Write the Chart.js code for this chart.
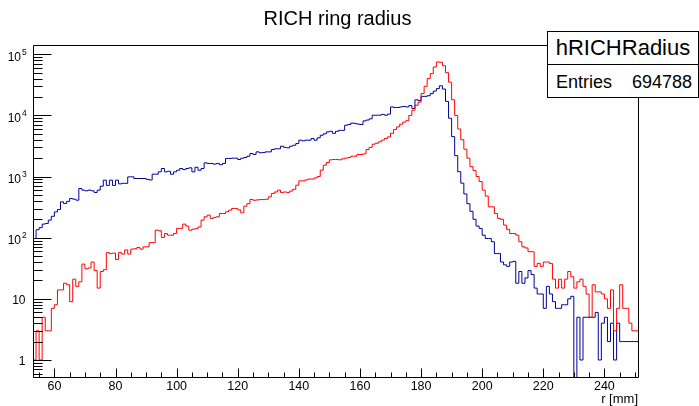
<!DOCTYPE html>
<html>
<head>
<meta charset="utf-8">
<script src="https://cdn.jsdelivr.net/npm/chart.js@4.4.1/dist/chart.umd.min.js"></script>
<style>
  body { margin: 0; background: #fff; }
  #wrap { position: relative; width: 699px; height: 406px; font-family: "Liberation Sans", Arial, sans-serif; color: #000; }
  canvas { position: absolute; left: 0; top: 0; }
  .txt { position: absolute; white-space: nowrap; }
  #title { left: 0; width: 675px; top: 8px; text-align: center; font-size: 20px; line-height: 20px; }
  #stats { position: absolute; left: 547px; top: 31px; width: 152px; height: 67px; box-sizing: border-box; border: 1px solid #000; background: #fff; }
  #statsHead { position: absolute; left: 0; top: 0; width: 150px; height: 32px; border-bottom: 1px solid #000; }
  #statsName { left: 0; width: 150px; top: 5px; text-align: center; font-size: 22px; line-height: 22px; }
  #statsLbl { left: 8px; top: 41px; font-size: 18px; line-height: 18px; }
  #statsVal { right: 6px; top: 41px; font-size: 18px; line-height: 18px; }
</style>
</head>
<body>
<div id="wrap">
  <canvas id="hist" width="699" height="406"></canvas>
  <div id="title" class="txt">RICH ring radius</div>
  <div id="stats">
    <div id="statsHead"><div id="statsName" class="txt">hRICHRadius</div></div>
    <div id="statsLbl" class="txt">Entries</div>
    <div id="statsVal" class="txt">694788</div>
  </div>
</div>
<script>
// ---------- binning (1 mm bins) ----------
const rMin = 53;
const rMax = 251;
const binWidth = 1;

// ---------- counts per bin, r = 53 ... 250 ----------
const countsBlue = [
  68, 97, 135, 146, 167, 171, 194, 224, 264, 289,
  386, 363, 393, 438, 427, 411, 638, 600, 585, 600,
  585, 548, 600, 696, 873, 717, 873, 717, 873, 760,
  775, 775, 990, 990, 930, 930, 930, 930, 900, 880,
  1094, 1094, 1195, 1355, 1195, 1220, 1094, 1195, 1270, 1355,
  1300, 1355, 1390, 1195, 1420, 1270, 1355, 1676, 1640, 1640,
  1600, 1640, 1560, 1640, 1973, 1973, 2000, 2000, 1900, 2000,
  2050, 2154, 2383, 2300, 2535, 2450, 2480, 2535, 2535, 2770,
  2850, 2850, 3140, 3000, 2950, 3140, 3250, 3470, 3935, 3850,
  3935, 3935, 4190, 3935, 4300, 4745, 5000, 5380, 5500, 5100,
  5500, 5700, 5700, 6920, 7100, 7500, 7400, 7200, 7100, 8140,
  8400, 8800, 10080, 10080, 10080, 10400, 10080, 10500, 13770, 13500,
  13500, 13770, 14000, 13770, 14500, 13000, 18000, 17500, 20500, 20500,
  21000, 22770, 25000, 27500, 30500, 27000, 17000, 9000, 4500, 2200,
  1200, 780, 520, 360, 270, 200, 155, 142, 110, 97,
  97, 86, 55, 55, 40, 36, 34, 40, 41, 18,
  28, 18, 22, 29, 25, 15, 12, 12, 7, 16,
  12, 9, 7, 7, 8, 8, 10, 11, 0, 5,
  1, 5, 5, 5, 5, 6, 1, 4, 5, 2,
  4, 1, 4, 2, 2, 2, 2, 2
];

const countsRed = [
  1, 1, 3, 1, 5, 3, 3, 7, 8, 14,
  14, 18, 17, 9, 21, 16, 19, 37, 31, 32,
  40, 29, 15, 28, 30, 57, 55, 56, 44, 57,
  54, 63, 54, 65, 66, 69, 65, 71, 71, 83,
  83, 133, 130, 101, 117, 110, 110, 117, 142, 142,
  167, 155, 133, 138, 140, 150, 194, 220, 234, 207,
  215, 220, 249, 249, 265, 282, 301, 301, 285, 255,
  328, 360, 422, 410, 415, 420, 420, 425, 466, 529,
  560, 600, 550, 560, 550, 580, 620, 723, 851, 851,
  880, 910, 910, 950, 1000, 1273, 1536, 1700, 1880, 1900,
  1900, 1880, 1950, 2000, 2050, 2154, 2154, 2300, 2300, 2350,
  2770, 3000, 3383, 3500, 3700, 3950, 4200, 4455, 5100, 5900,
  6500, 7180, 7800, 8200, 10000, 12160, 14680, 16500, 22770, 30000,
  40000, 48300, 62000, 74900, 74000, 65000, 50000, 35000, 18000, 10000,
  6000, 4000, 2800, 2000, 1450, 1250, 1000, 830, 600, 480,
  320, 320, 249, 207, 200, 161, 137, 117, 117, 110,
  86, 71, 68, 59, 59, 34, 38, 34, 40, 40,
  38, 21, 15, 21, 15, 21, 28, 23, 15, 19,
  21, 16, 12, 5, 17, 13, 13, 12, 10, 7,
  14, 3, 7, 17, 7, 7, 4, 3
];

// ---------- axes ----------
const xTickValues = [60, 80, 100, 120, 140, 160, 180, 200, 220, 240];
const yTickValues = [1, 10, 100, 1000, 10000, 100000];
const yTickLabels = [["1", ""], ["10", ""], ["10", "2"], ["10", "3"], ["10", "4"], ["10", "5"]];
const yMin = 0.5076;
const yMax = 1.419e5;

const FONT = '"Liberation Sans", Arial, sans-serif';

// ---------- histogram outline ----------
function histPoints(counts) {
  const pts = counts.map((c, i) => ({ x: rMin + i * binWidth, y: Math.max(c, yMin) }));
  pts.push({ x: rMin + counts.length * binWidth, y: Math.max(counts[counts.length - 1], yMin) });
  return pts;
}

// ---------- frame + ROOT style ticks ----------
const rootFrame = {
  id: "rootFrame",
  afterDatasetsDraw(chart) {
    const { ctx, chartArea: a } = chart;
    const xs = chart.scales.x;
    const ys = chart.scales.y;
    const left = a.left + 0.5;
    const bottom = a.bottom - 0.5;

    ctx.save();
    ctx.strokeStyle = "#000";
    ctx.lineWidth = 1;
    ctx.beginPath();
    ctx.rect(left, a.top + 0.5, a.right - a.left, a.bottom - a.top - 1);

    // x ticks: major every 20 mm, minor every 5 mm
    for (let v = 55; v <= rMax; v += 5) {
      const px = Math.round(xs.getPixelForValue(v)) + 0.5;
      const len = v % 20 === 0 ? 9 : 5;
      ctx.moveTo(px, bottom);
      ctx.lineTo(px, bottom - len);
    }

    // y ticks: major per decade, minor 2..9
    for (let e = -1; e <= 5; e++) {
      for (let m = 1; m <= 9; m++) {
        const v = m * Math.pow(10, e);
        if (v < yMin || v > yMax) continue;
        const py = Math.round(ys.getPixelForValue(v)) + 0.5;
        ctx.moveTo(left, py);
        ctx.lineTo(left + (m === 1 ? 18 : 9), py);
      }
    }
    ctx.stroke();

    // y labels, 10 with superscript exponent
    ctx.fillStyle = "#000";
    yTickValues.forEach((v, i) => {
      const py = ys.getPixelForValue(v);
      const [base, exp] = yTickLabels[i];
      ctx.font = "12px " + FONT;
      ctx.textAlign = "right";
      if (exp) {
        ctx.fillText(base, 21, py + 6.5);
        ctx.font = "8.5px " + FONT;
        ctx.textAlign = "left";
        ctx.fillText(exp, 22, py + 0.5);
      } else {
        ctx.fillText(base, 25.5, py + 5.3);
      }
    });
    ctx.restore();
  }
};

// ---------- chart ----------
const ctx = document.getElementById("hist").getContext("2d");
new Chart(ctx, {
  type: "line",
  data: {
    datasets: [
      { label: "red", data: histPoints(countsRed), borderColor: "#ff0000" },
      { label: "blue", data: histPoints(countsBlue), borderColor: "#000099" }
    ]
  },
  options: {
    responsive: false,
    animation: false,
    devicePixelRatio: 1,
    layout: { padding: { top: 45, right: 61, left: 0, bottom: 0 } },
    elements: {
      point: { radius: 0 },
      line: { borderWidth: 1, tension: 0, fill: false, stepped: "after" }
    },
    plugins: {
      legend: { display: false },
      tooltip: { enabled: false },
      title: { display: false }
    },
    scales: {
      x: {
        type: "linear",
        min: rMin,
        max: rMax,
        bounds: "data",
        afterBuildTicks: (s) => { s.ticks = xTickValues.map((v) => ({ value: v })); },
        afterFit: (s) => { s.height = 28; },
        grid: { display: false, drawTicks: false },
        border: { display: false },
        ticks: { color: "#000", font: { family: FONT, size: 12.5 }, padding: 1, maxRotation: 0, autoSkip: false },
        title: { display: true, text: "r [mm]", align: "end", color: "#000", font: { family: FONT, size: 13 }, padding: { top: 0, bottom: -1 } }
      },
      y: {
        type: "logarithmic",
        min: yMin,
        max: yMax,
        bounds: "data",
        afterBuildTicks: (s) => { s.ticks = yTickValues.map((v) => ({ value: v })); },
        afterFit: (s) => { s.width = 33; },
        grid: { display: false, drawTicks: false },
        border: { display: false },
        ticks: { display: false }
      }
    }
  },
  plugins: [rootFrame]
});
</script>
</body>
</html>
